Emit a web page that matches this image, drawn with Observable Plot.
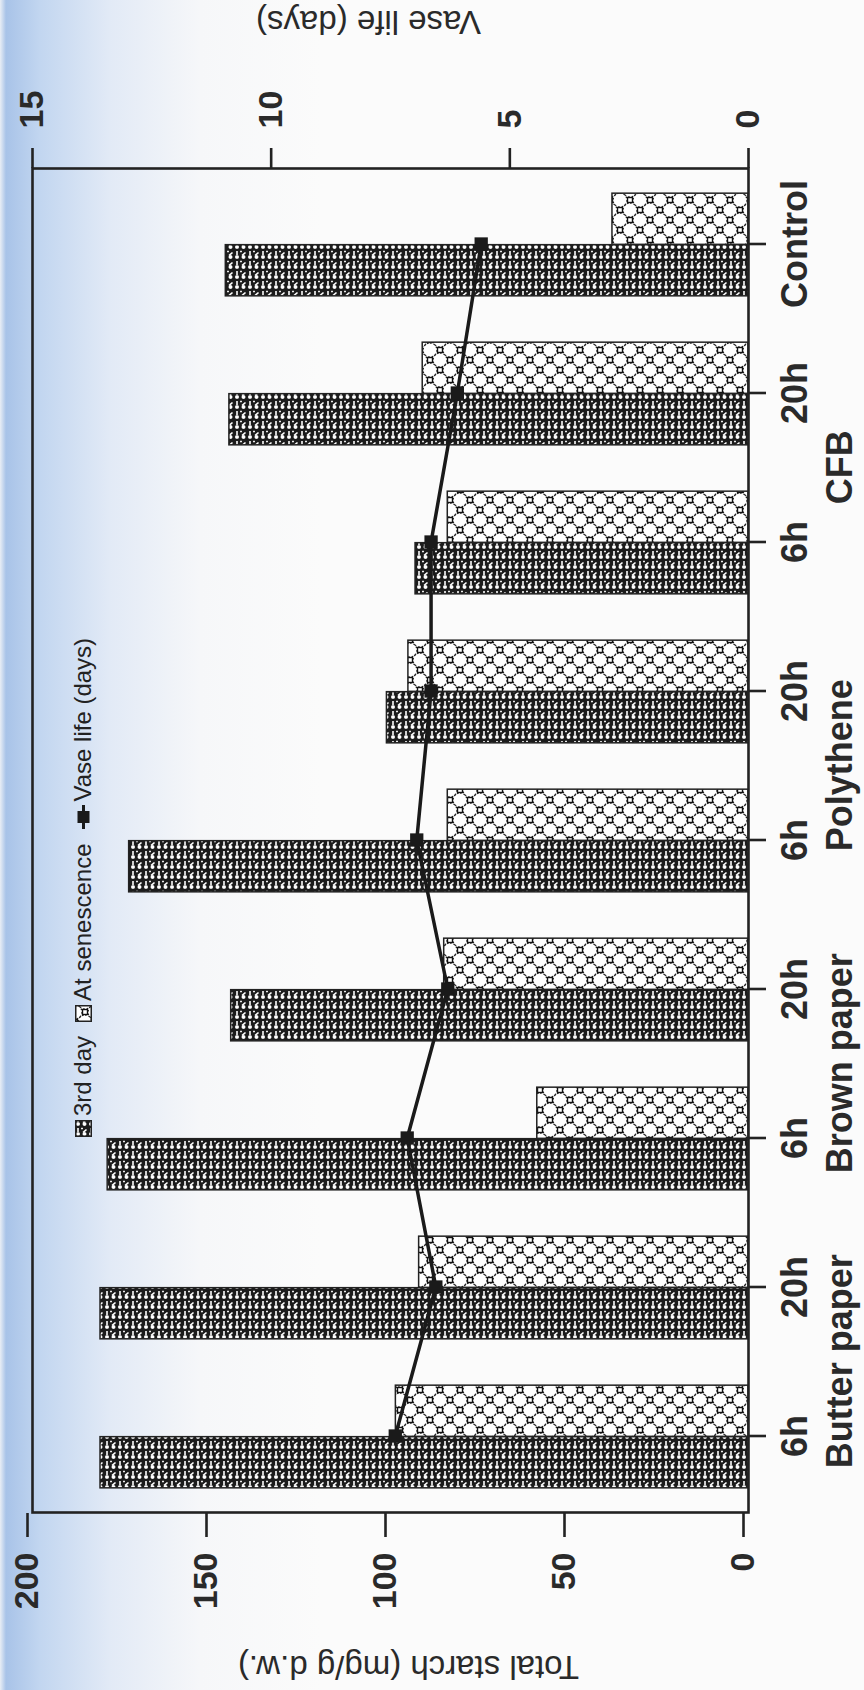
<!DOCTYPE html>
<html><head><meta charset="utf-8">
<script src="https://cdn.jsdelivr.net/npm/d3@7"></script>
<script src="https://cdn.jsdelivr.net/npm/@observablehq/plot@0.6"></script>
<style>
html,body{margin:0;padding:0;}
body{width:864px;height:1690px;overflow:hidden;position:relative;
 background:linear-gradient(to right,#e9eef5 0px,#a8c3e8 6px,#c2d6f0 40px,#e2eaf6 110px,#f6f7f9 200px,#fbfbfb 320px);}
#rot{position:absolute;left:0;top:1690px;width:1690px;height:864px;transform-origin:0 0;transform:rotate(-90deg);}
#legend{position:absolute;left:553px;top:69px;display:flex;align-items:center;gap:4px;
 font-family:'Liberation Sans',Arial,sans-serif;font-size:24px;color:#222;white-space:nowrap;}
#legend svg{display:block;}
#legend .sp{width:6px;}
</style></head><body>
<div id="rot"><div id="legend"></div></div>
<script>
// ---- data ----
const keys = ["BP6","BP20","BR6","BR20","PO6","PO20","CF6","CF20","CTL"];
const tickLabels = ["6h","20h","6h","20h","6h","20h","6h","20h","Control"];
const groupNames = ["Butter paper","Brown paper","Polythene","CFB"];
const groupFirstKey = ["BP6","BR6","PO6","CF6"];
const starch3rdDay = [181, 181, 179, 144.5, 173, 101, 93, 145, 146];
const starchSenescence = [98.5, 92, 59, 85, 84, 95, 84, 91, 38];
const vaseLifeDays = [7.4, 6.55, 7.15, 6.3, 6.95, 6.65, 6.65, 6.1, 5.6];
const starchTicks = [0, 50, 100, 150, 200];
const vaseTicks = [0, 5, 10, 15];
const legendLabels = ["3rd day", "At senescence", "Vase life (days)"];
const starchTitle = "Total starch (mg/g d.w.)";
const vaseTitle = "Vase life (days)";

const starchMax = 200, vaseMax = 15;
const toStarch = v => v * starchMax / vaseMax;

const rows3 = keys.map((k, i) => ({key: k, v: starch3rdDay[i]}));
const rowsS = keys.map((k, i) => ({key: k, v: starchSenescence[i]}));
const rowsV = keys.map((k, i) => ({key: k, v: vaseLifeDays[i]}));
const groups = groupNames.map((g, i) => ({name: g, key: groupFirstKey[i]}));

const W = 1690, H = 864, mL = 177, mR = 169, mT = 32, mB = 116;
const bw = (W - mL - mR) / keys.length, half = bw / 2, barW = 51.5;
const ink = "#222";
const font = "'Liberation Sans', Arial, sans-serif";

const chart = Plot.plot({
  width: W, height: H, marginLeft: mL, marginRight: mR, marginTop: mT, marginBottom: mB,
  style: {background: "transparent", fontFamily: font, color: ink},
  x: {type: "band", domain: keys, padding: 0},
  y: {domain: [0, starchMax]},
  marks: [
    Plot.barY(rows3, {x: "key", y: "v", fill: "url(#pDark)", stroke: ink, strokeWidth: 1.5,
      insetLeft: half - barW, insetRight: half}),
    Plot.barY(rowsS, {x: "key", y: "v", fill: "url(#pLight)", stroke: ink, strokeWidth: 1.5,
      insetLeft: half, insetRight: half - barW}),
    Plot.frame({stroke: ink, strokeWidth: 2.6}),
    Plot.axisY(starchTicks, {anchor: "left", tickSize: 24, tickPadding: 16, strokeWidth: 2.6,
      fontSize: 34, fontWeight: "bold", dy: -5, label: null, fill: "#2a2a2a"}),
    Plot.axisY(vaseTicks.map(toStarch), {anchor: "right", tickSize: 20, tickPadding: 20, strokeWidth: 2.6,
      fontSize: 34, fontWeight: "bold", label: null, fill: "#2a2a2a",
      tickFormat: d => String(Math.round(d * vaseMax / starchMax))}),
    Plot.axisX({tickSize: 18, tickPadding: 15, strokeWidth: 2.6, fontSize: 36, fontWeight: "bold",
      label: null, fill: "#2a2a2a", tickFormat: k => tickLabels[keys.indexOf(k)]}),
    Plot.text(groups, {x: "key", text: "name", frameAnchor: "bottom", dx: half, dy: 78,
      lineAnchor: "top", fontSize: 36, fontWeight: "bold", fill: "#2a2a2a"}),
    Plot.line(rowsV, {x: "key", y: d => toStarch(d.v), stroke: "#1a1a1a", strokeWidth: 3.5}),
    Plot.dot(rowsV, {x: "key", y: d => toStarch(d.v), symbol: "square", r: 7.5, fill: "#1a1a1a", stroke: "none"}),
    Plot.text([starchTitle], {frameAnchor: "left", textAnchor: "middle", dx: -154, dy: 18, rotate: -90,
      fontSize: 33, fill: "#2a2a2a"}),
    Plot.text([vaseTitle], {frameAnchor: "right", textAnchor: "middle", dx: 147, dy: -22, rotate: -90,
      fontSize: 33, fill: "#2a2a2a"})
  ]
});

// patterns
const defs = d3.select(chart).insert("defs", ":first-child");
const pd = defs.append("pattern").attr("id", "pDark").attr("patternUnits", "userSpaceOnUse")
  .attr("width", 10).attr("height", 13);
pd.append("rect").attr("width", 10).attr("height", 13).attr("fill", "#1c1c1c");
pd.append("circle").attr("cx", 3).attr("cy", 3).attr("r", 1.9).attr("fill", "#fff");
pd.append("line").attr("x1", 5).attr("y1", 3).attr("x2", 9).attr("y2", 3).attr("stroke", "#fff").attr("stroke-width", 1.6);
pd.append("circle").attr("cx", 3).attr("cy", 9.5).attr("r", 1.9).attr("fill", "#fff");
pd.append("line").attr("x1", 4.5).attr("y1", 8).attr("x2", 7.5).attr("y2", 11.5).attr("stroke", "#fff").attr("stroke-width", 1.5);
pd.append("circle").attr("cx", 8.5).attr("cy", 7).attr("r", 0.9).attr("fill", "#fff");

const pl = defs.append("pattern").attr("id", "pLight").attr("patternUnits", "userSpaceOnUse")
  .attr("width", 20).attr("height", 20);
pl.append("rect").attr("width", 20).attr("height", 20).attr("fill", "#fff");
for (const [cx, cy] of [[10, 0], [0, 10], [20, 10], [10, 20]]) {
  pl.append("circle").attr("cx", cx).attr("cy", cy).attr("r", 7).attr("fill", "none")
    .attr("stroke", "#222").attr("stroke-width", 1.3).attr("stroke-dasharray", "1.6 2.1");
}
for (const [cx, cy] of [[0, 0], [20, 0], [0, 20], [20, 20], [10, 10]]) {
  pl.append("rect").attr("x", cx - 2.5).attr("y", cy - 2.5).attr("width", 5).attr("height", 5)
    .attr("fill", "#fff").attr("stroke", "#111").attr("stroke-width", 1.4);
}

const rot = document.getElementById("rot");
rot.insertBefore(chart, rot.firstChild);
chart.style.position = "absolute"; chart.style.left = "0"; chart.style.top = "0";

// legend
const lg = d3.select("#legend");
function swatch(fill) {
  const s = lg.append("svg").attr("width", 17).attr("height", 17);
  s.append("rect").attr("x", 0.75).attr("y", 0.75).attr("width", 15.5).attr("height", 15.5)
    .attr("fill", fill).attr("stroke", ink).attr("stroke-width", 1.5);
}
swatch("url(#pDark)");
lg.append("span").text(legendLabels[0]);
lg.append("span").attr("class", "sp");
swatch("url(#pLight)");
lg.append("span").text(legendLabels[1]);
lg.append("span").attr("class", "sp");
const ls = lg.append("svg").attr("width", 24).attr("height", 17);
ls.append("line").attr("x1", 0).attr("x2", 24).attr("y1", 8.5).attr("y2", 8.5).attr("stroke", "#1a1a1a").attr("stroke-width", 3);
ls.append("rect").attr("x", 6).attr("y", 2.5).attr("width", 12).attr("height", 12).attr("fill", "#1a1a1a");
lg.append("span").text(legendLabels[2]);
</script></body></html>
